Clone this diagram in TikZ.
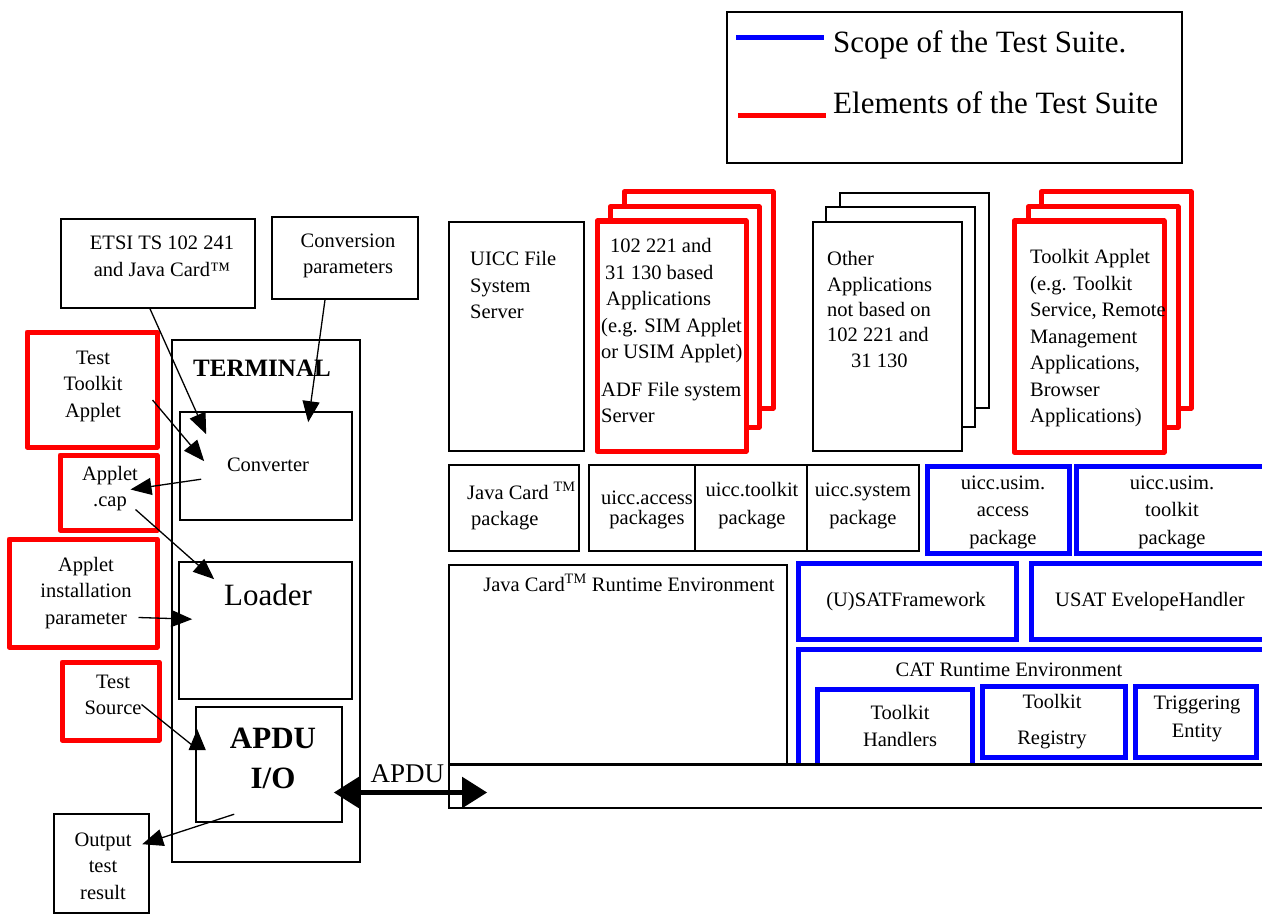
\documentclass[tikz,border=0pt]{standalone}
\usepackage{fontspec}
\setmainfont{Liberation Serif}
\usetikzlibrary{arrows.meta,calc}
\newcommand\bx[6]{\node[#2, minimum width={#5pt-#3pt}, minimum height={#6pt-#4pt}] (#1) at ({(#3+#5)/2},{(#4+#6)/2}) {};}
\begin{document}
\begin{tikzpicture}[x=1pt,y=-1pt,
 bbox/.style={draw, line width=1.6pt, fill=white, inner sep=0pt},
 rbox/.style={draw=red, line width=5pt, fill=white, inner sep=0pt, line join=round},
 ubox/.style={draw=blue, line width=5pt, fill=white, inner sep=0pt},
 txt/.style={inner sep=0pt, align=center, font=\fontsize{20.5pt}{26.5pt}\selectfont},
 arr/.style={line width=1.3pt, -{Triangle[length=21pt,width=17pt]}},
 legline/.style={line width=5pt}]
\useasboundingbox (0,0) rectangle (1262,915);
% legend
\bx{legend}{bbox}{727}{12}{1182}{163}
\coordinate (lb1) at ($(legend.north west)+(10,26)$);
\coordinate (lb2) at ($(legend.north west)+(98,26)$);
\coordinate (lr1) at ($(legend.north west)+(12,104)$);
\coordinate (lr2) at ($(legend.north west)+(100,104)$);
\draw[legline, blue] (lb1) -- (lb2);
\draw[legline, red] (lr1) -- (lr2);
\node[inner sep=0pt, anchor=west, font=\fontsize{31pt}{37pt}\selectfont] (lgs) at (833,45) {Scope of the Test Suite.};
\node[inner sep=0pt, anchor=west, font=\fontsize{31pt}{37pt}\selectfont] (lge) at (833,103) {Elements of the Test Suite};
% left side
\bx{etsi}{bbox}{61}{219}{255}{308}
\node[txt] (tetsi) at (162,256.5) {ETSI TS 102 241\\and Java Card™};
\bx{cparam}{bbox}{272}{217}{418}{299}
\node[txt] (tcparam) at (348,256) {Conversion\\parameters};
\bx{term}{bbox}{172}{340}{360}{862}
\node[inner sep=0pt, font=\fontsize{25pt}{30pt}\selectfont\bfseries] (tterm) at (262,368) {TERMINAL};
\bx{conv}{bbox}{180}{412}{352}{520}
\node[txt] (tconv) at (268,465) {Converter};
\bx{loader}{bbox}{179}{562}{352}{699}
\node[inner sep=0pt, font=\fontsize{31pt}{37pt}\selectfont] (tloader) at (268,595) {Loader};
\bx{apdu}{bbox}{196}{707}{342}{822}
\node[inner sep=0pt, align=center, font=\fontsize{31pt}{40pt}\selectfont\bfseries] (tapdu) at (273,758) {APDU\\I/O};
\bx{tta}{rbox}{27}{332}{157}{447}
\node[txt] (ttta) at (93,386) {Test\\Toolkit\\Applet};
\bx{cap}{rbox}{60}{455}{157}{530}
\node[txt] (tcap) at (110,488.5) {Applet\\.cap};
\bx{aip}{rbox}{9}{539}{157}{647}
\node[txt] (taip) at (86,593) {Applet\\installation\\parameter};
\bx{tsrc}{rbox}{62}{662}{159}{740}
\node[txt] (ttsrc) at (113,695) {Test\\Source};
\bx{out}{bbox}{54}{814}{149}{913}
\node[txt] (tout) at (103,866) {Output\\test\\result};
% right side top
\bx{uiccfs}{bbox}{449}{222}{584}{451}
\node[txt, align=left, anchor=west] (tuiccfs) at (470,285) {UICC File\\System\\Server};
\bx{rsA3}{rbox}{624}{192}{773}{408}
\bx{rsA2}{rbox}{610}{207}{759}{427}
\bx{rsA1}{rbox}{597}{221}{746}{451}
\node[txt, align=left, anchor=west] (trsA) at (601,330.5) {\hspace{9pt}102 221 and\\\hspace{4pt}31 130 based\\\hspace{5pt}Applications\\(e.g. SIM Applet\\or USIM Applet)\\[11pt]ADF File system\\Server};
\bx{oa3}{bbox}{840}{193}{989}{408}
\bx{oa2}{bbox}{826}{207}{975}{427}
\bx{oa1}{bbox}{813}{222}{962}{451}
\node[txt, align=left, anchor=west, font=\fontsize{20.5pt}{25.3pt}\selectfont] (toa) at (827,309.5) {Other\\Applications\\not based on\\102 221 and\\\hspace{24pt}31 130};
\bx{ta3}{rbox}{1041}{192}{1191}{408}
\bx{ta2}{rbox}{1028}{207}{1178}{427}
\bx{ta1}{rbox}{1014}{221}{1164}{452}
\node[txt, align=left, anchor=west] (tta1) at (1030,338.5) {Toolkit Applet\\(e.g. Toolkit\\Service, Remote\\Management\\Applications,\\Browser\\Applications)};
% packages
\bx{jcpkg}{bbox}{449}{465}{579}{551}
\node[txt, align=left, anchor=west] (tjcpkg) at (467,506) {Java Card \textsuperscript{TM}\\\hspace{4pt}package};
\bx{access}{bbox}{589}{465}{695}{551}
\node[txt, font=\fontsize{20.5pt}{20pt}\selectfont] (taccess) at (647,510) {uicc.access\\packages};
\bx{toolkit}{bbox}{695}{465}{807}{551}
\node[txt, font=\fontsize{20.5pt}{28pt}\selectfont] (ttoolkit) at (752,506) {uicc.toolkit\\package};
\bx{system}{bbox}{807}{465}{919}{551}
\node[txt, font=\fontsize{20.5pt}{28pt}\selectfont] (tsystem) at (863,506) {uicc.system\\package};
\bx{usimacc}{ubox}{927}{466}{1069}{553}
\node[txt, font=\fontsize{20.5pt}{27.5pt}\selectfont] (tusimacc) at (1003,512) {uicc.usim.\\access\\package};
\bx{usimtk}{ubox}{1076}{466}{1280}{553}
\node[txt, font=\fontsize{20.5pt}{27.5pt}\selectfont] (tusimtk) at (1172,512) {uicc.usim.\\toolkit\\package};
% runtime
\bx{jcre}{bbox}{449}{565}{787}{765}
\node[txt] (tjcre) at (629,583) {Java Card\textsuperscript{TM} Runtime Environment};
\bx{satfw}{ubox}{798}{563}{1016}{639}
\node[txt] (tsatfw) at (906,602) {(U)SATFramework};
\bx{envh}{ubox}{1031}{563}{1280}{639}
\node[txt] (tenvh) at (1150,602) {USAT EvelopeHandler};
\bx{catre}{ubox}{798}{649}{1280}{770}
\node[txt] (tcatre) at (1009,670) {CAT Runtime Environment};
\bx{th}{ubox}{817}{689}{972}{770}
\node[txt, font=\fontsize{20.5pt}{27pt}\selectfont] (tth) at (900,725.5) {Toolkit\\Handlers};
\bx{tr}{ubox}{982}{686}{1125}{757}
\node[txt, font=\fontsize{20.5pt}{36pt}\selectfont] (ttr) at (1052,722) {Toolkit\\Registry};
\bx{te}{ubox}{1135}{686}{1256}{757}
\node[txt, font=\fontsize{20.5pt}{28pt}\selectfont] (tte) at (1197,719) {Triggering\\Entity};
\bx{strip}{bbox}{449}{765}{1280}{808}
\draw[line width=2.6pt] (strip.north west) -- (strip.north east);
% arrows
\draw[arr] ($(etsi.south)+(-8,0)$) -- ($(conv.north west)+(27,23)$);
\draw[arr] ($(cparam.south)+(-20,0)$) -- ($(conv.north west)+(129,11)$);
\draw[arr] ($(tta.east)+(-7,10.5)$) -- ($(conv.north west)+(25,50)$);
\draw[arr] ($(conv.north west)+(22,68)$) -- ($(cap.north west)+(73,37)$);
\draw[arr] ($(cap.north west)+(78,57)$) -- ($(loader.north west)+(36,18)$);
\draw[arr] ($(aip.north west)+(132,81)$) -- ($(loader.north west)+(14,58)$);
\draw[arr] ($(tsrc.north west)+(82,45)$) -- ($(apdu.north west)+(2,43)$) -- ($(apdu.north west)+(2,23)$);
\draw[arr] ($(apdu.north west)+(39,108)$) -- ($(out.north west)+(89,31)$);
\draw[line width=5pt, {Triangle[length=25pt,width=30pt]}-{Triangle[length=25pt,width=30pt]}] ($(apdu.east)+(-9,28)$) -- node[pos=0.48, above=7pt, inner sep=0pt, font=\fontsize{27pt}{32pt}\selectfont] (lapdu) {APDU} ($(strip.west)+(39,6)$);
\end{tikzpicture}
\end{document}
